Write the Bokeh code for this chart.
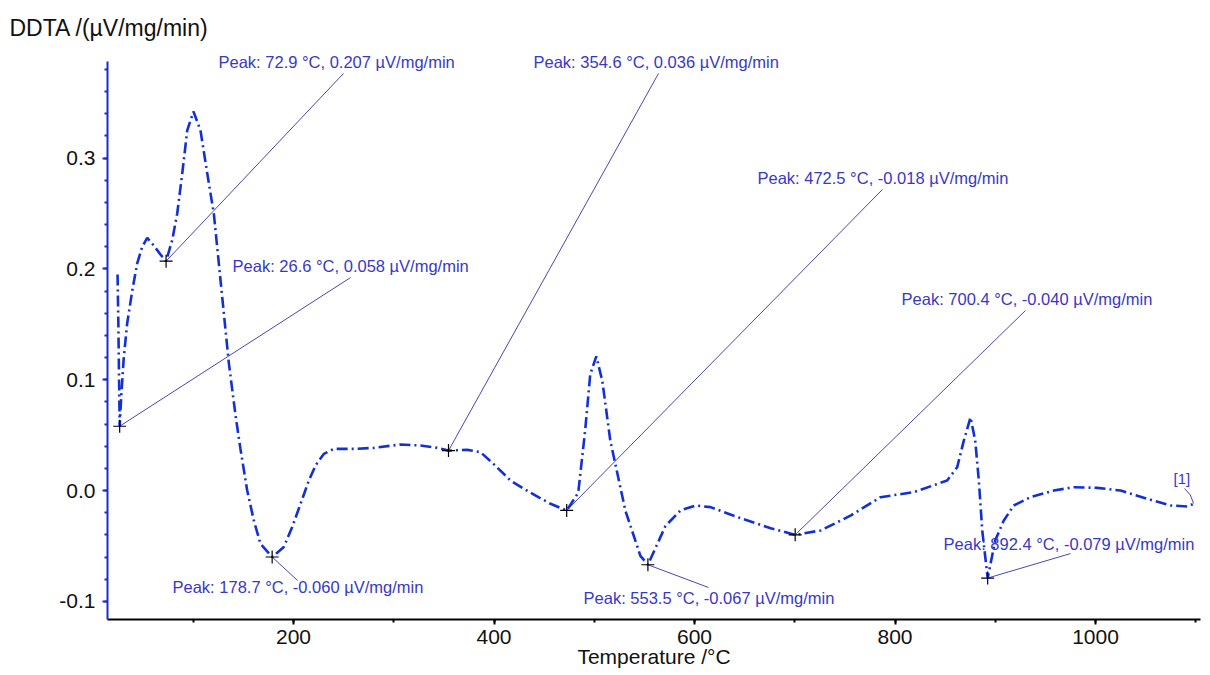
from bokeh.plotting import figure
from bokeh.models import (Range1d, SingleIntervalTicker, NumeralTickFormatter,
                          Label, LabelSet, ColumnDataSource)
from bokeh.core.properties import value
from bokeh.embed import file_html
from bokeh.resources import INLINE

# ---- data ----
temperature = [24.5, 25.3, 26.0, 26.6, 28.1, 30.7, 34.1, 39.1, 44.1, 49.1, 54.1, 60.7,
               67.3, 72.9, 79.0, 84.0, 89.0, 94.0, 100.2, 107.2, 114.0, 120.5, 125.5,
               130.5, 135.5, 142.0, 147.0, 153.8, 160.4, 167.0, 178.7, 190.3, 198.7,
               207.0, 215.3, 222.0, 230.2, 240.2, 263.5, 280.1, 306.7, 326.7, 343.3, 354.6,
               373.3, 386.5, 399.5, 416.5, 436.4, 456.4, 472.5, 484, 491, 496, 502, 508, 516, 531,
               546, 553.5, 561, 571, 586, 601, 616, 646, 676, 700.4, 726, 756, 785.5,
               818.7, 852, 862, 868.6, 875.3, 880, 883.6, 887, 892.4, 900, 908.5,
               918.5, 935, 958.4, 978.4, 1001.7, 1025, 1051.6, 1074.8, 1091.5, 1098]
ddta = [0.195, 0.150, 0.100, 0.058, 0.084, 0.120, 0.151, 0.180, 0.205, 0.220, 0.228, 0.221,
        0.213, 0.207, 0.226, 0.250, 0.286, 0.325, 0.342, 0.325, 0.286, 0.250, 0.205,
        0.160, 0.115, 0.069, 0.038, 0.000, -0.027, -0.048, -0.060, -0.051, -0.033,
        -0.012, 0.009, 0.0226, 0.033, 0.0376, 0.0376, 0.0385, 0.0415, 0.0406, 0.0385, 0.036,
        0.0367, 0.0346, 0.024, 0.009, -0.002, -0.012, -0.018, -0.002, 0.055, 0.105, 0.121, 0.099, 0.045, -0.018,
        -0.059, -0.067, -0.052, -0.032, -0.018, -0.0135, -0.015, -0.025, -0.034, -0.040, -0.036, -0.0225, -0.006,
        -0.0015, 0.009, 0.021, 0.045, 0.066, 0.045, 0.009, -0.036, -0.079, -0.045, -0.027,
        -0.0135, -0.006, 0.0, 0.003, 0.0024, 0.0, -0.0075, -0.0135, -0.0144, -0.012]

peak_temp = [26.6, 72.9, 178.7, 354.6, 472.5, 553.5, 700.4, 892.4]
peak_ddta = [0.058, 0.207, -0.060, 0.036, -0.018, -0.067, -0.040, -0.079]

x_ticks_interval = 200
y_ticks_interval = 0.1
y_axis_bounds = (-0.1164, 0.3872)

# ---- annotation layout (data units) ----
text_x = [139.2, 125.2, 79.3, 439.4, 662.8, 489.3, 806.5, 848.4]
text_y = [0.2022, 0.3863, -0.0875, 0.3863, 0.2816, -0.0966, 0.1724, -0.0487]
lead_x = [256.9, 249.9, 204.0, 564.1, 787.5, 613.9, 930.2, 975.0]
lead_y = [0.1922, 0.3764, -0.0812, 0.3764, 0.2717, -0.0875, 0.1625, -0.0569]

labels = ["Peak: %.1f \u00b0C, %.3f \u00b5V/mg/min" % (t, v) for t, v in zip(peak_temp, peak_ddta)]

FONT = "Liberation Sans"
CURVE = "#1230d6"
TEXT = "#3838c8"

p = figure(width=1210, height=675, output_backend="svg", toolbar_location=None,
           x_range=Range1d(14.46, 1104.7), y_range=Range1d(-0.1164, 0.4034),
           min_border_left=107, min_border_right=10, min_border_top=43, min_border_bottom=56,
           title="DDTA /(\u00b5V/mg/min)")
p.outline_line_color = None
p.grid.visible = False
p.background_fill_color = "white"
p.border_fill_color = "white"

p.title.align = "left"
p.title.offset = -98
p.title.standoff = 6
p.title.text_font = FONT
p.title.text_font_size = "23px"
p.title.text_font_style = "normal"
p.title.text_color = "#111111"

# axes
xa = p.xaxis[0]
xa.ticker = SingleIntervalTicker(interval=x_ticks_interval, num_minor_ticks=2)
xa.axis_line_color = "black"
xa.axis_line_width = 2
xa.major_tick_line_color = "black"
xa.major_tick_line_width = 2
xa.minor_tick_line_color = "black"
xa.minor_tick_line_width = 2
xa.major_tick_in = 0
xa.major_tick_out = 5
xa.minor_tick_in = 0
xa.minor_tick_out = 3
xa.major_label_standoff = 5
xa.major_label_text_font = FONT
xa.major_label_text_font_size = "21px"
xa.major_label_text_color = "#111111"
xa.axis_label = "Temperature /\u00b0C"
xa.axis_label_text_font = FONT
xa.axis_label_text_font_size = "21px"
xa.axis_label_text_font_style = "normal"
xa.axis_label_text_color = "#111111"
xa.axis_label_standoff = -2

ya = p.yaxis[0]
ya.bounds = y_axis_bounds
ya.ticker = SingleIntervalTicker(interval=y_ticks_interval, num_minor_ticks=5)
ya.formatter = NumeralTickFormatter(format="0.0")
ya.axis_line_color = "#1a2ccf"
ya.axis_line_width = 2
ya.major_tick_line_color = "#1a2ccf"
ya.major_tick_line_width = 2
ya.minor_tick_line_color = "#1a2ccf"
ya.minor_tick_line_width = 2
ya.major_tick_in = 0
ya.major_tick_out = 5
ya.minor_tick_in = 0
ya.minor_tick_out = 3
ya.major_label_standoff = 7
ya.major_label_text_font = FONT
ya.major_label_text_font_size = "21px"
ya.major_label_text_color = "#111111"

# leader lines
p.segment(x0=peak_temp, y0=peak_ddta, x1=lead_x, y1=lead_y, line_color="#4848b0", line_width=1)

# curve
p.line(temperature, ddta, line_color=CURVE, line_width=2.6, line_dash="11 4 2 4")

# peak markers
p.scatter(peak_temp, peak_ddta, marker="cross", size=13, line_color="black", line_width=1.2)

# "[1]" tag with its small leader
p.line([1088.8, 1094.5, 1097.8], [0.0018, -0.0040, -0.0117], line_color="#4848b0", line_width=1)
p.add_layout(Label(x=1077.8, y=0.0108, text="[1]", text_font=FONT, text_font_size="15px",
                   text_color=TEXT, text_baseline="middle", text_align="left"))

src = ColumnDataSource(dict(x=text_x, y=text_y, t=labels))
p.add_layout(LabelSet(x="x", y="y", text="t", source=src, text_font=value(FONT),
                      text_font_size="16.5px", text_color=TEXT, text_baseline="middle",
                      text_align="left"))

open("out.html", "w").write(file_html(p, INLINE))
